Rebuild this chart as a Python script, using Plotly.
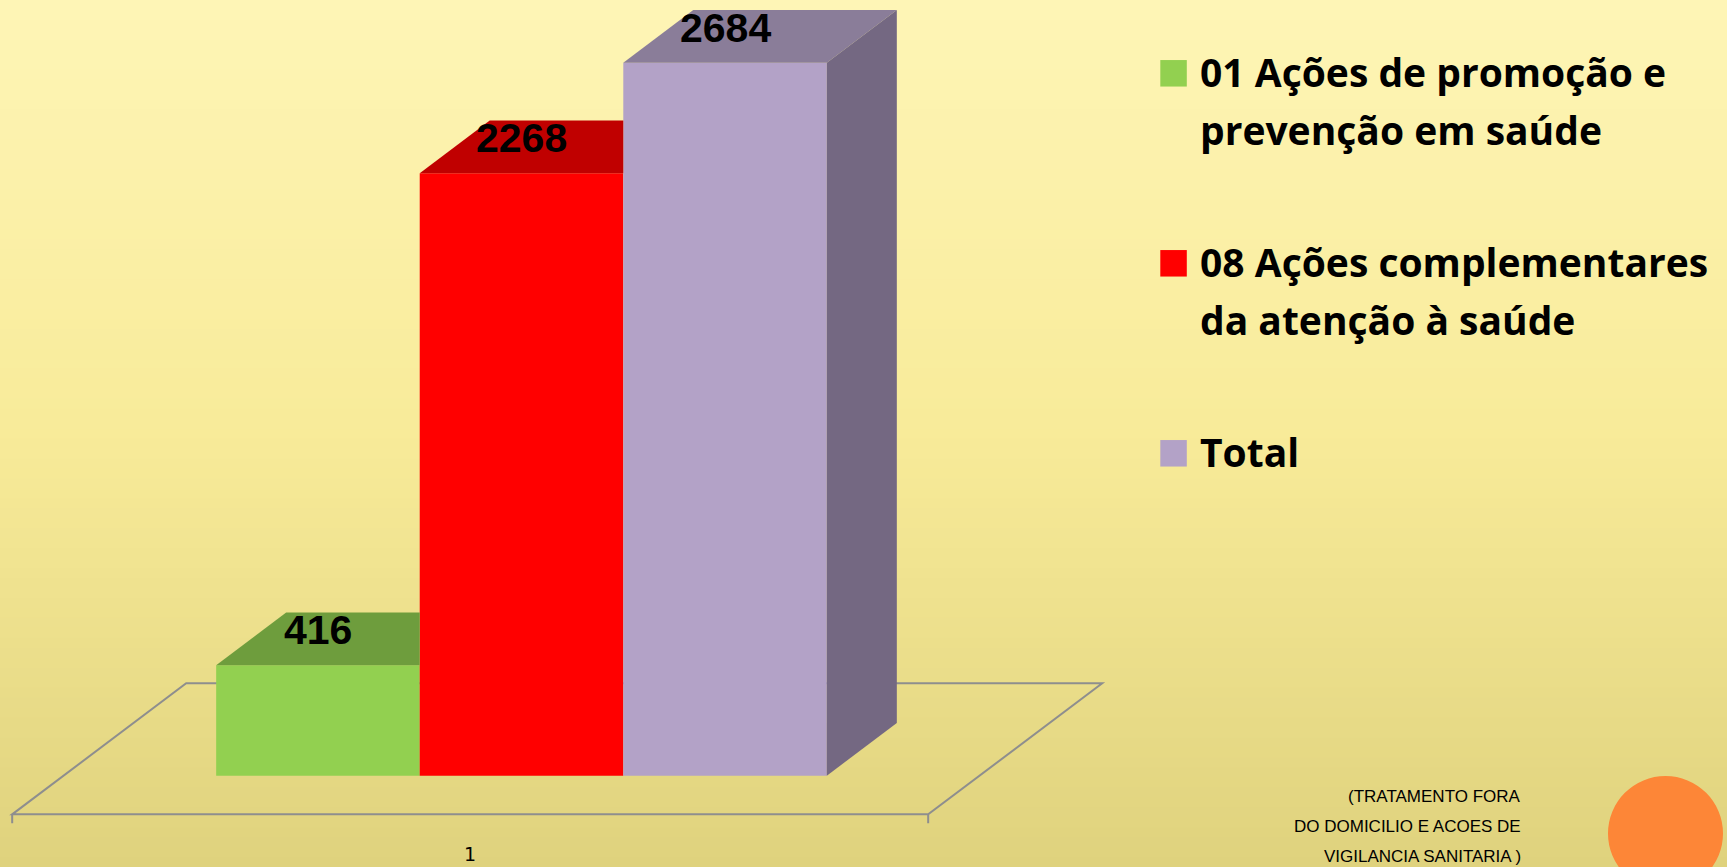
import plotly.graph_objects as go

# ---------------- data ----------------
categories = ["1"]
series_names = [
    "01 Ações de promoção e prevenção em saúde",
    "08 Ações complementares da atenção à saúde",
    "Total",
]
legend_lines = [
    ["01 Ações de promoção e", "prevenção em saúde"],
    ["08 Ações complementares", "da atenção à saúde"],
    ["Total"],
]
values = [416, 2268, 2684]
note_lines = ["(TRATAMENTO FORA", "DO DOMICILIO E ACOES DE", "VIGILANCIA SANITARIA )"]

# ---------------- style / layout constants ----------------
W, H = 1727, 867
front_colors = ["#92D050", "#FF0000", "#B3A2C7"]
top_colors = ["#6E9D3D", "#C00000", "#8A7D99"]
side_colors = ["#5C8233", "#990000", "#746882"]
floor_color = "#8E8E8E"

BARGAP = 1 / 3            # Excel-like gap width 150%
PX_PER_X = 916.0          # pixels per category slot
UNITS_PER_PX = 3.765      # value units per pixel
BASE_PX = 775.7           # pixel row of value 0 on the bars' front plane
CENTER_PX = 521.5         # pixel column of the category centre on the front plane
DEPTH_PX = (70.0, 52.7)   # 3-D depth offset of the bars (right, up)
FLOOR_FRONT = 0.733       # floor front edge, in bar depths in front of the bars
FLOOR_BACK = 1.753        # floor back edge, in bar depths behind the bars' front
TICK_PX = 9

x_lo = -CENTER_PX / PX_PER_X
x_hi = (W - CENTER_PX) / PX_PER_X
y_lo = -(H - BASE_PX) * UNITS_PER_PX
y_hi = BASE_PX * UNITS_PER_PX
ddx = DEPTH_PX[0] / PX_PER_X
ddy = DEPTH_PX[1] * UNITS_PER_PX

n = len(values)
bw = (1 - BARGAP) / n
cat_pos = list(range(len(categories)))
centers = [cat_pos[0] - (1 - BARGAP) / 2 + bw * (i + 0.5) for i in range(n)]

fig = go.Figure()

# front faces: real bars
for i in range(n):
    fig.add_trace(go.Bar(
        x=cat_pos, y=[values[i]], name=series_names[i],
        marker=dict(color=front_colors[i], line=dict(width=0)),
        showlegend=False, hoverinfo="name+y",
    ))

# top and side faces computed from values
for i in range(n):
    v = values[i]
    xl, xr = centers[i] - bw / 2, centers[i] + bw / 2
    nxt_taller = i + 1 < n and values[i + 1] > v
    xr_back = xr if nxt_taller else xr + ddx
    fig.add_trace(go.Scatter(
        x=[xl, xl + ddx, xr_back, xr, xl],
        y=[v, v + ddy, v + ddy, v, v],
        mode="lines", fill="toself", fillcolor=top_colors[i],
        line=dict(width=0, color=top_colors[i]),
        hoverinfo="skip", showlegend=False,
    ))
    if i == n - 1:
        fig.add_trace(go.Scatter(
            x=[xr, xr + ddx, xr + ddx, xr, xr],
            y=[0, ddy, v + ddy, v, 0],
            mode="lines", fill="toself", fillcolor=side_colors[i],
            line=dict(width=0, color=side_colors[i]),
            hoverinfo="skip", showlegend=False,
        ))

shapes = []
# background vertical gradient
stops = [(0.0, (254, 245, 182)), (0.5, (248, 235, 153)), (1.0, (223, 210, 125))]
NB = 87
for b in range(NB):
    t = (b + 0.5) / NB
    for (t0, c0), (t1, c1) in zip(stops[:-1], stops[1:]):
        if t0 <= t <= t1:
            f = (t - t0) / (t1 - t0)
            c = tuple(round(c0[k] + (c1[k] - c0[k]) * f) for k in range(3))
            break
    shapes.append(dict(
        type="rect", xref="paper", yref="paper", layer="below",
        x0=0, x1=1, y0=1 - (b + 1) / NB - 0.002, y1=1 - b / NB,
        fillcolor="rgb(%d,%d,%d)" % c, line=dict(width=0),
    ))

# floor (3-D plane under the bars)
fx0, fx1 = cat_pos[0] - 0.5, cat_pos[0] + 0.5
fl = (fx0 - FLOOR_FRONT * ddx, -FLOOR_FRONT * ddy)
fr = (fx1 - FLOOR_FRONT * ddx, -FLOOR_FRONT * ddy)
br = (fx1 + FLOOR_BACK * ddx, FLOOR_BACK * ddy)
bl = (fx0 + FLOOR_BACK * ddx, FLOOR_BACK * ddy)
tick = TICK_PX * UNITS_PER_PX
path = "M %f,%f L %f,%f L %f,%f L %f,%f Z M %f,%f L %f,%f M %f,%f L %f,%f" % (
    fl[0], fl[1], fr[0], fr[1], br[0], br[1], bl[0], bl[1],
    fl[0], fl[1], fl[0], fl[1] - tick,
    fr[0], fr[1], fr[0], fr[1] - tick,
)
shapes.append(dict(type="path", xref="x", yref="y", layer="below", path=path,
                   line=dict(color=floor_color, width=2)))

# legend squares
LEG_X = 1160.3
LEG_SQ = 26.5
LEG_ROWS = [73.3, 263.3, 453.3]
LINE_STEP = 58.3
TEXT_X = 1198.0
for i in range(n):
    cy = LEG_ROWS[i]
    shapes.append(dict(
        type="rect", xref="paper", yref="paper",
        x0=LEG_X / W, x1=(LEG_X + LEG_SQ) / W,
        y0=1 - (cy + LEG_SQ / 2) / H, y1=1 - (cy - LEG_SQ / 2) / H,
        fillcolor=front_colors[i], line=dict(width=0),
    ))

# orange circle decoration
shapes.append(dict(type="circle", xref="paper", yref="paper",
                   x0=1608 / W, x1=1723 / W, y0=1 - 891 / H, y1=1 - 776 / H,
                   fillcolor="#FD8637", line=dict(width=0)))

annotations = []
# value labels on top faces
for i in range(n):
    annotations.append(dict(
        x=centers[i], y=values[i], xref="x", yref="y", yshift=35,
        text="<b>%d</b>" % values[i], showarrow=False,
        xanchor="center", yanchor="middle",
        font=dict(family="Liberation Sans, Arial", size=41, color="black"),
    ))
# category label
annotations.append(dict(
    x=cat_pos[0], y=-FLOOR_FRONT * ddy, xref="x", yref="y",
    xshift=-FLOOR_FRONT * DEPTH_PX[0], yshift=-40,
    text=categories[0], showarrow=False, xanchor="center", yanchor="middle",
    font=dict(family="DejaVu Sans", size=19, color="black"),
))
# legend text
for i in range(n):
    for j, line in enumerate(legend_lines[i]):
        cy = LEG_ROWS[i] - 2 + j * LINE_STEP
        annotations.append(dict(
            x=TEXT_X / W, y=1 - cy / H, xref="paper", yref="paper",
            text="<b>%s</b>" % line, showarrow=False,
            xanchor="left", yanchor="middle",
            font=dict(family="Open Sans", size=39, color="black"),
        ))
# note text
for j, line in enumerate(note_lines):
    cy = 796 + j * 30
    annotations.append(dict(
        x=1523 / W, y=1 - cy / H, xref="paper", yref="paper",
        text=line, showarrow=False, xanchor="right", yanchor="middle",
        font=dict(family="Liberation Sans, Arial", size=17, color="black"),
    ))

fig.update_layout(
    width=W, height=H, autosize=False,
    margin=dict(l=0, r=0, t=0, b=0, pad=0),
    paper_bgcolor="#F8EB99", plot_bgcolor="rgba(0,0,0,0)",
    barmode="group", bargap=BARGAP, bargroupgap=0,
    showlegend=False,
    xaxis=dict(range=[x_lo, x_hi], visible=False, fixedrange=True),
    yaxis=dict(range=[y_lo, y_hi], visible=False, fixedrange=True),
    shapes=shapes, annotations=annotations,
)

fig.write_html(
    "out.html",
    config={"displayModeBar": False},
    post_script="document.body.style.margin='0';document.body.style.overflow='hidden';",
)
